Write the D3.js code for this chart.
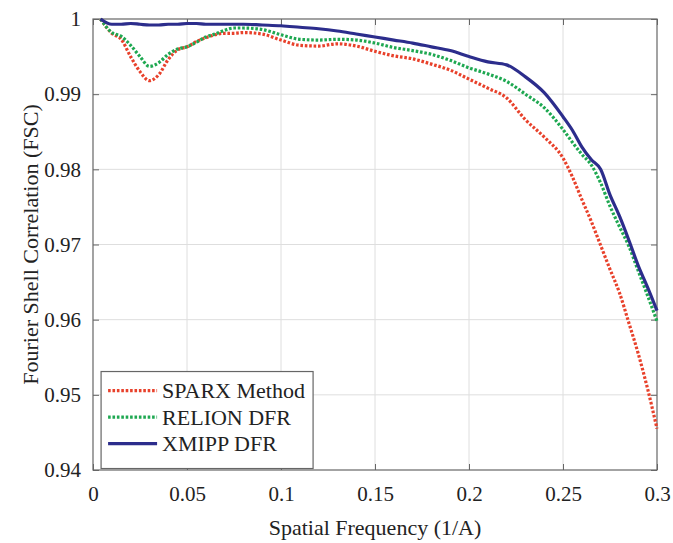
<!DOCTYPE html>
<html>
<head>
<meta charset="utf-8">
<script src="https://cdn.jsdelivr.net/npm/d3@7"></script>
<style>
  body { margin: 0; background: #fff; }
</style>
</head>
<body>
<svg></svg>
<script>
// 資料
const freq   = [0.004, 0.01, 0.015, 0.02, 0.025, 0.03, 0.035, 0.04, 0.045, 0.05, 0.055, 0.06, 0.065, 0.07, 0.075, 0.08, 0.09, 0.1, 0.11, 0.12, 0.13, 0.14, 0.15, 0.16, 0.17, 0.18, 0.19, 0.2, 0.21, 0.22, 0.23, 0.24, 0.25, 0.255, 0.26, 0.265, 0.27, 0.275, 0.28, 0.285, 0.29, 0.295, 0.3];
const sparx  = [1.0, 0.9981, 0.9973, 0.9950, 0.9930, 0.9918, 0.9926, 0.9946, 0.9959, 0.9963, 0.9970, 0.9975, 0.9979, 0.9981, 0.9981, 0.9982, 0.9980, 0.9972, 0.9965, 0.9964, 0.9967, 0.9964, 0.9957, 0.9951, 0.9947, 0.9940, 0.9932, 0.9920, 0.9908, 0.9895, 0.9866, 0.9843, 0.9815, 0.9790, 0.9760, 0.9731, 0.9699, 0.9667, 0.9636, 0.9596, 0.9555, 0.9508, 0.9455];
const relion = [1.0, 0.9982, 0.9977, 0.9965, 0.9950, 0.9937, 0.9942, 0.9953, 0.9960, 0.9963, 0.9969, 0.9976, 0.9980, 0.9985, 0.9988, 0.9988, 0.9986, 0.9979, 0.9973, 0.9972, 0.9973, 0.9972, 0.9968, 0.9962, 0.9958, 0.9953, 0.9945, 0.9935, 0.9927, 0.9917, 0.9900, 0.9882, 0.9853, 0.9836, 0.9820, 0.9806, 0.9782, 0.9751, 0.9724, 0.9698, 0.9665, 0.9632, 0.9598];
const xmipp  = [1.0, 0.9993, 0.9993, 0.9994, 0.9993, 0.9992, 0.9992, 0.9993, 0.9993, 0.9994, 0.9994, 0.9993, 0.9993, 0.9993, 0.9993, 0.9993, 0.9992, 0.9991, 0.9989, 0.9987, 0.9984, 0.9980, 0.9976, 0.9972, 0.9968, 0.9963, 0.9958, 0.9950, 0.9943, 0.9939, 0.9923, 0.9902, 0.9870, 0.9852, 0.9830, 0.9813, 0.9800, 0.9766, 0.9738, 0.9706, 0.9672, 0.9643, 0.9612];
const xTicks = [0, 0.05, 0.1, 0.15, 0.2, 0.25, 0.3];
const yTicks = [0.94, 0.95, 0.96, 0.97, 0.98, 0.99, 1];
const seriesNames = ["SPARX Method", "RELION DFR", "XMIPP DFR"];

const serif = "Liberation Serif, Tinos, Nimbus Roman, Noto Serif, FreeSerif, DejaVu Serif, Times New Roman, Times, serif";

const svgSize = { width: 673, height: 543 };
const margin = { top: 19, right: 16, bottom: 73, left: 93 };
const width = svgSize.width - margin.left - margin.right;
const height = svgSize.height - margin.top - margin.bottom;

const svg = d3.select("svg")
  .attr("width", svgSize.width)
  .attr("height", svgSize.height);

const chart = svg.append("g")
  .attr("transform", `translate(${margin.left},${margin.top})`);

const x = d3.scaleLinear().domain([0, 0.3]).range([0, width]);
const y = d3.scaleLinear().domain([0.94, 1]).range([height, 0]);

// 格線
chart.append("g")
  .selectAll("line")
  .data(xTicks.slice(1, -1))
  .enter().append("line")
  .attr("x1", d => x(d)).attr("x2", d => x(d))
  .attr("y1", 0).attr("y2", height)
  .attr("stroke", "#dedede").attr("stroke-width", 1);
chart.append("g")
  .selectAll("line")
  .data(yTicks.slice(1, -1))
  .enter().append("line")
  .attr("x1", 0).attr("x2", width)
  .attr("y1", d => y(d)).attr("y2", d => y(d))
  .attr("stroke", "#dedede").attr("stroke-width", 1);

// 座標軸（刻度朝內）
const fmt = d => d === 0 ? "0" : d === 1 ? "1" : String(+d.toFixed(2));
const axisStyle = g => {
  g.attr("font-family", serif);
  g.select(".domain").remove();
  g.selectAll(".tick line").attr("stroke", "#666");
  g.selectAll(".tick text")
    .attr("fill", "#222")
    .attr("font-family", serif)
    .style("font-size", "21px");
};
chart.append("g")
  .attr("transform", `translate(0,${height})`)
  .call(d3.axisBottom(x).tickValues(xTicks).tickFormat(fmt).tickSizeInner(-6).tickPadding(16))
  .call(axisStyle);
chart.append("g")
  .call(d3.axisTop(x).tickValues(xTicks).tickFormat("").tickSizeInner(-6))
  .call(axisStyle);
chart.append("g")
  .call(d3.axisLeft(y).tickValues(yTicks).tickFormat(fmt).tickSizeInner(-6).tickPadding(12))
  .call(axisStyle);
chart.append("g")
  .attr("transform", `translate(${width},0)`)
  .call(d3.axisRight(y).tickValues(yTicks).tickFormat("").tickSizeInner(-6))
  .call(axisStyle);

// 外框
chart.append("rect")
  .attr("width", width).attr("height", height)
  .attr("fill", "none").attr("stroke", "#666").attr("stroke-width", 1.2);

// 曲線
const styles = [
  { color: "#e8412b", dash: "2.6,1.8", w: 3.2 },
  { color: "#1ea851", dash: "2.6,1.8", w: 3.2 },
  { color: "#2c2d8c", dash: null, w: 3.2 }
];
const data = [sparx, relion, xmipp];
const line = d3.line()
  .x((d, i) => x(freq[i]))
  .y(d => y(d))
  .curve(d3.curveMonotoneX);

// 由下往上畫：紅、綠、藍
data.forEach((s, k) => {
  chart.append("path")
    .datum(s)
    .attr("d", line)
    .attr("fill", "none")
    .attr("stroke", styles[k].color)
    .attr("stroke-width", styles[k].w)
    .attr("stroke-dasharray", styles[k].dash);
});

// 圖例
const legend = chart.append("g").attr("transform", `translate(${x(0.0043)},${y(0.9531)})`);
legend.append("rect")
  .attr("width", 212).attr("height", 97)
  .attr("fill", "#fff").attr("stroke", "#666").attr("stroke-width", 1.2);
seriesNames.forEach((name, k) => {
  const ly = 19 + k * 26.5;
  legend.append("line")
    .attr("x1", 7).attr("x2", 56).attr("y1", ly).attr("y2", ly)
    .attr("stroke", styles[k].color)
    .attr("stroke-width", styles[k].w)
    .attr("stroke-dasharray", styles[k].dash);
  legend.append("text")
    .attr("x", 61).attr("y", ly).attr("dy", "0.35em")
    .attr("font-family", serif)
    .style("font-size", "22px")
    .attr("fill", "#222")
    .text(name);
});

// 座標軸標題
svg.append("text")
  .attr("x", margin.left + width / 2).attr("y", 535)
  .attr("text-anchor", "middle")
  .attr("font-family", serif)
  .style("font-size", "22px")
  .attr("fill", "#222")
  .text("Spatial Frequency (1/A)");
svg.append("text")
  .attr("transform", `translate(30,${margin.top + height / 2}) rotate(-90)`)
  .attr("text-anchor", "middle")
  .attr("dy", "0.35em")
  .attr("font-family", serif)
  .style("font-size", "22px")
  .attr("fill", "#222")
  .text("Fourier Shell Correlation (FSC)");
</script>
</body>
</html>
